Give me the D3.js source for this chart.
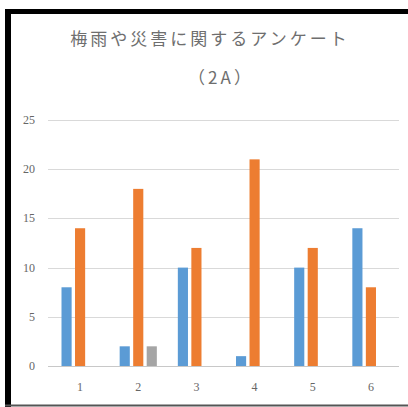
<!DOCTYPE html>
<html>
<head>
<meta charset="utf-8">
<script src="https://cdn.jsdelivr.net/npm/d3@7"></script>
<style>
	body { margin: 0; background: #fff; }
	svg { display: block; }
</style>
</head>
<body>
<div id="chart"></div>
<script>
// chart data
var categories = ["1", "2", "3", "4", "5", "6"];
var seriesNames = ["s1", "s2", "s3"];
var series1 = [8, 2, 10, 1, 10, 14];
var series2 = [14, 18, 12, 21, 12, 8];
var series3 = [0, 2, 0, 0, 0, 0];
var yTicks = [0, 5, 10, 15, 20, 25];
var titleLines = ["梅雨や災害に関するアンケート", "（2A）"];

var colors = ["#5b9bd5", "#ed7d31", "#a5a5a5"];
var allSeries = [series1, series2, series3];

var width = 408,
	height = 407;

var svg = d3
	.select("#chart")
	.append("svg")
	.attr("width", width)
	.attr("height", height);

// frame
svg.append("rect")
	.attr("x", 0).attr("y", 0)
	.attr("width", width).attr("height", height)
	.attr("fill", "#fff");
svg.append("line")
	.attr("x1", 5).attr("x2", width)
	.attr("y1", 11.5).attr("y2", 11.5)
	.attr("stroke", "#000").attr("stroke-width", 5);
svg.append("line")
	.attr("x1", 8).attr("x2", 8)
	.attr("y1", 9).attr("y2", height)
	.attr("stroke", "#000").attr("stroke-width", 6);
svg.append("line")
	.attr("x1", 5).attr("x2", width)
	.attr("y1", 405.5).attr("y2", 405.5)
	.attr("stroke", "#555").attr("stroke-width", 2);

// scales
var y = d3.scaleLinear().domain([0, 25]).range([366, 120]);
var x0 = d3.scaleBand().domain(categories).range([51, 400]).padding(0);
var x1 = d3
	.scaleBand()
	.domain(seriesNames)
	.range([10.5, x0.bandwidth() - 10.5])
	.paddingInner(0.25);

// gridlines
svg.selectAll(".grid")
	.data(yTicks)
	.enter()
	.append("line")
	.attr("class", "grid")
	.attr("x1", 48).attr("x2", 399)
	.attr("y1", (d) => Math.round(y(d)) + 0.5)
	.attr("y2", (d) => Math.round(y(d)) + 0.5)
	.attr("stroke", (d) => (d == 0 ? "#c8c8c8" : "#d9d9d9"))
	.attr("stroke-width", 1);

// y labels
svg.selectAll(".ylab")
	.data(yTicks)
	.enter()
	.append("text")
	.attr("class", "ylab")
	.attr("x", 35)
	.attr("y", (d) => y(d) + 4)
	.attr("text-anchor", "end")
	.attr("font-family", "'Liberation Serif', 'DejaVu Serif', serif")
	.attr("font-size", 12)
	.attr("fill", "#666")
	.text((d) => d);

// bars
var groups = svg.selectAll(".grp")
	.data(categories)
	.enter()
	.append("g")
	.attr("class", "grp")
	.attr("transform", (d) => "translate(" + x0(d) + ",0)");

groups.selectAll("rect")
	.data((d, i) => allSeries.map((s, j) => ({ key: seriesNames[j], value: s[i], color: colors[j] })))
	.enter()
	.append("rect")
	.attr("x", (d) => x1(d.key))
	.attr("width", x1.bandwidth())
	.attr("y", (d) => y(d.value))
	.attr("height", (d) => y(0) - y(d.value))
	.attr("fill", (d) => d.color);

// x labels
svg.selectAll(".xlab")
	.data(categories)
	.enter()
	.append("text")
	.attr("class", "xlab")
	.attr("x", (d) => x0(d) + x0.bandwidth() / 2)
	.attr("y", 391)
	.attr("text-anchor", "middle")
	.attr("font-family", "'Liberation Serif', 'DejaVu Serif', serif")
	.attr("font-size", 12)
	.attr("fill", "#666")
	.text((d) => d);

// title
svg.append("text")
	.attr("x", 210)
	.attr("y", 45)
	.attr("text-anchor", "middle")
	.attr("font-family", "'Noto Sans CJK JP', sans-serif")
	.attr("font-size", 17)
	.attr("letter-spacing", 3)
	.attr("fill", "#6e6e6e")
	.text(titleLines[0]);

svg.append("text")
	.attr("x", 221)
	.attr("y", 84)
	.attr("text-anchor", "middle")
	.attr("font-family", "'Noto Sans CJK JP', sans-serif")
	.attr("font-size", 17)
	.attr("letter-spacing", 3)
	.attr("fill", "#6e6e6e")
	.text(titleLines[1]);
</script>
</body>
</html>
